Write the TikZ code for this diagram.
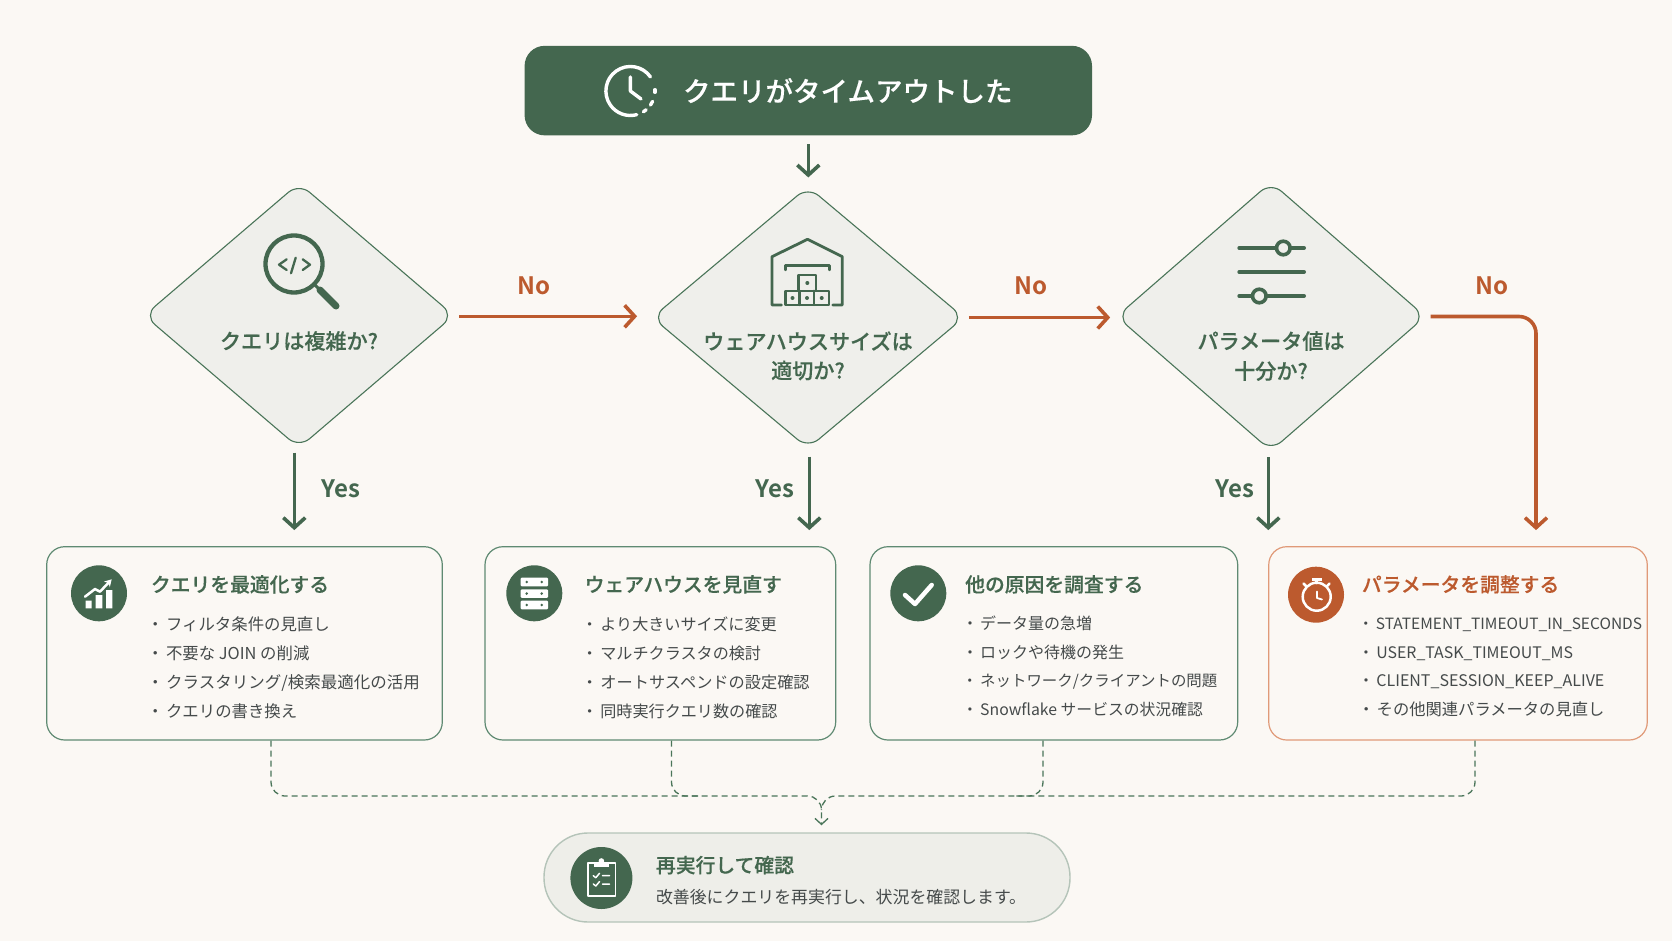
\documentclass[tikz,border=0pt]{standalone}
\usepackage{fontspec}
\setmainfont{Noto Sans CJK JP}
\newfontfamily\jpr{Noto Sans CJK JP}
\newfontfamily\jpm[FakeBold=0.3]{Noto Sans CJK JP Medium}
\newfontfamily\jpb{Noto Sans CJK JP Bold}
\usetikzlibrary{arrows.meta,shapes.geometric}
\definecolor{bgc}{HTML}{FBF8F4}
\definecolor{grn}{HTML}{44674F}
\definecolor{grnline}{HTML}{4A7559}
\definecolor{cardline}{HTML}{5F8A72}
\definecolor{org}{HTML}{BC5A2E}
\definecolor{orgline}{HTML}{E09A78}
\definecolor{dfill}{HTML}{EFEFEB}
\definecolor{pfill}{HTML}{EEEEE9}
\definecolor{pline}{HTML}{B5C4B9}
\definecolor{bodyc}{HTML}{454A4A}
\newcommand\rs{\rule[\dimexpr 6.3pt-0.5\baselineskip\relax]{0pt}{\baselineskip}}
\newcommand\sz[1]{\fontsize{#1}{\baselineskip}\selectfont}
\newcommand\dline[2]{\makebox[0pt][c]{\raisebox{#1}[0pt][0pt]{#2}}}
\tikzset{
  decision/.style={shape=diamond,draw=grnline,fill=dfill,line width=1.1pt,inner sep=0pt,rounded corners=14pt,text=grn,font=\jpm\fontsize{21.1}{24}\selectfont},
  card/.style={shape=rectangle,draw=cardline,fill=bgc,line width=1.2pt,rounded corners=18pt,inner sep=0pt,minimum height=193.3pt},
  ocard/.style={card,draw=orgline},
  circ/.style={shape=circle,fill=grn,inner sep=0pt,minimum size=56pt},
  title/.style={anchor=west,inner sep=0pt,text=grn,font=\jpm\fontsize{19.8}{24}\selectfont,text height=17.6pt,text depth=2.4pt},
  otitle/.style={title,text=org},
  blist/.style={anchor=west,inner sep=0pt,align=left,text=bodyc,font=\jpr\fontsize{16.4}{#1}\selectfont},
  gar/.style={draw=grn,line width=3.6pt,-{Straight Barb[length=10pt,width=22pt,line width=3.6pt]}},
  oar/.style={draw=org,line width=3.6pt,-{Straight Barb[length=10pt,width=22pt,line width=3.6pt]}},
  dsh/.style={draw=grnline,line width=1.3pt,dash pattern=on 6pt off 4pt},
  yes/.style={inner sep=0pt,text=grn,font=\jpb\fontsize{24}{28}\selectfont},
  nol/.style={inner sep=0pt,text=org,font=\jpb\fontsize{24}{28}\selectfont},
  ic/.style={draw=grn,line width=2.8pt,line cap=round,line join=round},
  wic/.style={draw=white,line width=2.5pt,line cap=round,line join=round},
}
\begin{document}
\begin{tikzpicture}[x=1pt,y=-1pt]
\useasboundingbox (0,0) rectangle (1672,941);
\fill[bgc] (0,0) rectangle (1672,941);

% start banner
\node[shape=rectangle,fill=grn,rounded corners=20pt,minimum width=567.4pt,minimum height=89.5pt,inner sep=0pt,text=white,font=\jpm\fontsize{27.5}{32}\selectfont] (banner) at (808.3,90.6) {\makebox[0pt][c]{\hspace{79pt}\raisebox{-2pt}{クエリがタイムアウトした}}};
\draw[wic,line width=3.4pt] (630.4,91) ++(-35:24.5) arc[start angle=-35,end angle=-285,radius=24.5];
\draw[wic,line width=3.4pt] (630.4,91) ++(-3:24.5) arc[start angle=-3,end angle=3,radius=24.5];
\draw[wic,line width=3.4pt] (630.4,91) ++(25:24.5) arc[start angle=25,end angle=35,radius=24.5];
\draw[wic,line width=3.4pt] (630.4,91) ++(50:24.5) arc[start angle=50,end angle=58,radius=24.5];
\draw[wic,line width=3.4pt] (630.4,77) -- (630.4,91) -- (641,99);

% decisions
\node[decision,minimum width=310pt,minimum height=265pt] (d1) at (299,315.5) {\dline{-33.5pt}{クエリは複雑か?}};
\node[decision,minimum width=312pt,minimum height=262pt] (d2) at (808,317.5) {\dline{-32pt}{ウェアハウスサイズは}\dline{-61pt}{適切か?}};
\node[decision,minimum width=309pt,minimum height=269pt] (d3) at (1271,316.5) {\dline{-32.5pt}{パラメータ値は}\dline{-62.5pt}{十分か?}};

% magnifier
\draw[ic,line width=4.3pt] (294,264) circle[radius=28.5];
\draw[ic,line width=3pt] (314,284) -- (320,290);
\draw[ic,line width=7pt] (320,290) -- (336,306);
\draw[ic,line width=2.3pt] (286.7,259.3) -- (279,264.7) -- (286.7,270);
\draw[ic,line width=2.3pt] (295.7,257.7) -- (291,273.3);
\draw[ic,line width=2.3pt] (302.7,259.3) -- (310,264.7) -- (302.7,270);

% warehouse
\draw[ic] (781.4,305) -- (772,305) -- (772,256.7) -- (807.5,239.3) -- (842.3,256.7) -- (842.3,305) -- (832.8,305);
\draw[ic,line width=2.4pt] (785.4,270) -- (785.4,265.7) -- (829.3,265.7) -- (829.3,270);
\draw[ic,line width=2.4pt] (798.4,275) rectangle (816.2,290.7);
\draw[ic,line width=2.4pt] (785.4,290.7) rectangle (829.2,305);
\draw[ic,line width=2.4pt] (799.6,290.7) -- (799.6,305) (814.2,290.7) -- (814.2,305);
\fill[grn] (807.3,283) circle[radius=2] (792.5,298) circle[radius=2] (807,298) circle[radius=2] (821.7,298) circle[radius=2];

% sliders
\draw[ic,line width=4pt] (1239.3,248) -- (1304,248);
\draw[ic,line width=4pt] (1239.3,272) -- (1304,272);
\draw[ic,line width=4pt] (1239.3,296) -- (1304,296);
\draw[ic,line width=3.6pt,fill=dfill] (1283.3,248) circle[radius=6.8];
\draw[ic,line width=3.6pt,fill=dfill] (1259.3,296) circle[radius=6.8];

% cards
\node[card,minimum width=395.6pt] (c1) at (244.5,643.35) {};
\node[card,minimum width=350.7pt] (c2) at (660.35,643.35) {};
\node[card,minimum width=367.7pt] (c3) at (1053.85,643.35) {};
\node[ocard,minimum width=378.5pt] (c4) at (1458,643.35) {};

\node[circ] (i1) at (99,593.3) {};
\node[circ] (i2) at (534.3,593.3) {};
\node[circ] (i3) at (918.3,593.3) {};
\node[circ,fill=org] (i4) at (1316,594.7) {};

\node[title] (t1) at (150.7,584.3) {クエリを最適化する};
\node[title] (t2) at (584.5,584.3) {ウェアハウスを見直す};
\node[title] (t3) at (965,584.3) {他の原因を調査する};
\node[otitle] (t4) at (1361.7,584.3) {パラメータを調整する};

\node[blist=29] (l1) at (146.8,667.5) {\rs・\hspace{2.7pt}フィルタ条件の見直し\\\rs・\hspace{2.7pt}不要な JOIN の削減\\\rs\sz{16.5}・\hspace{2.7pt}クラスタリング/検索最適化の活用\\\rs・\hspace{2.7pt}クエリの書き換え};
\node[blist=29] (l2) at (581.4,667.5) {\rs\sz{16.1}・\hspace{2.7pt}より大きいサイズに変更\\\rs\sz{16.1}・\hspace{2.7pt}マルチクラスタの検討\\\rs\sz{16.2}・\hspace{2.7pt}オートサスペンドの設定確認\\\rs\sz{16.1}・\hspace{2.7pt}同時実行クエリ数の確認};
\node[blist=28.5] (l3) at (961.8,666) {\rs\sz{16}・\hspace{2.2pt}データ量の急増\\\rs\sz{16}・\hspace{2.2pt}ロックや待機の発生\\\rs\sz{15.45}・\hspace{2.7pt}ネットワーク/クライアントの問題\\\rs\sz{15.8}・\hspace{2.4pt}Snowflake サービスの状況確認};
\node[blist=28.5] (l4) at (1357.8,666) {\rs\sz{15.5}・\hspace{2.4pt}STATEMENT\_TIMEOUT\_IN\_SECONDS\\\rs\sz{15.9}・\hspace{2.4pt}USER\_TASK\_TIMEOUT\_MS\\\rs\sz{16}・\hspace{2.4pt}CLIENT\_SESSION\_KEEP\_ALIVE\\\rs\sz{16.3}・\hspace{2.4pt}その他関連パラメータの見直し};

% card icons
\fill[white] (85.7,600.7) rectangle (91.7,608.3) (95.7,595) rectangle (102.3,608.3) (106,590) rectangle (112.3,608.3);
\draw[wic,-{Stealth[length=7pt,width=8pt]}] (85,596.7) -- (95,589) -- (100,591.7) -- (111.7,579.3);
\foreach \yy in {577.7,589.3,600.7}{
  \fill[white,rounded corners=1pt] (520.7,\yy) rectangle (548,\yy+8.6);
  \fill[grn] (526.7,\yy+4.3) circle[radius=1.4] (541.7,\yy+4.3) circle[radius=1.4];
}
\draw[wic,line width=4.5pt] (905,595) -- (915,604) -- (931.7,585);
\draw[wic] (1316.7,596.7) circle[radius=14];
\fill[white] (1311.7,578.3) rectangle (1321.7,581);
\draw[wic] (1316.7,580) -- (1316.7,583);
\draw[wic] (1303.5,583.5) -- (1306,586) (1329.5,583.5) -- (1327,586);
\draw[wic,line width=1.8pt] (1317,591.5) -- (1317,598) -- (1322,599.5);

% pill
\node[shape=rectangle,draw=pline,fill=pfill,line width=1.4pt,rounded corners=44pt,minimum width=526pt,minimum height=89pt,inner sep=0pt] (pill) at (807,877.5) {};
\node[circ,minimum size=62pt] (i5) at (601.4,878) {};
\node[title] (t5) at (655.8,865) {再実行して確認};
\node[anchor=west,inner sep=0pt,text=bodyc,font=\jpr\fontsize{16.9}{20}\selectfont,text height=14.4pt,text depth=2pt] (s5) at (655.8,897.2) {改善後にクエリを再実行し、状況を確認します。};
\draw[wic,line width=1.8pt] (587.7,863.3) rectangle (615.4,895.7);
\fill[white] (594,862) rectangle (608.8,866.5);
\fill[white] (601.4,861) circle[radius=2.8];
\draw[wic,line width=1.5pt] (593.3,875.7) -- (595.8,877.7) -- (599.5,873.3) (602.5,875.7) -- (609.5,875.7);
\draw[wic,line width=1.5pt] (593.3,884) -- (595.8,886) -- (599.5,881.6) (602.5,884) -- (609.5,884);

% connectors
\draw[gar,shorten <=8.6pt,shorten >=8.5pt] (banner.south) -- (banner.south |- d2.north);
\draw[oar,shorten <=4.5pt,shorten >=14.4pt] ([yshift=-0.8pt]d1.east) -- ([yshift=-0.8pt]d1.east -| d2.west);
\draw[oar,shorten <=4.4pt,shorten >=5.8pt] (d2.east) -- (d2.east -| d3.west);
\coordinate (n3) at (1536,316.5);
\draw[oar,rounded corners=17pt,shorten <=4.5pt,shorten >=16pt] (d3.east) -- (n3) -- (n3 |- c4.north);
\draw[gar,shorten <=4pt,shorten >=16pt] ([xshift=-4.7pt]d1.south) -- ([xshift=-4.7pt]d1.south |- c1.north);
\draw[gar,shorten <=7.5pt,shorten >=16pt] ([xshift=1.3pt]d2.south) -- ([xshift=1.3pt]d2.south |- c2.north);
\draw[gar,shorten <=5.7pt,shorten >=16pt] ([xshift=-2.7pt]d3.south) -- ([xshift=-2.7pt]d3.south |- c3.north);

\node[nol] (no1) at (534,285.7) {No};
\node[nol] (no2) at (1031,285.7) {No};
\node[nol] (no3) at (1491.7,285.7) {No};
\node[yes] (y1) at (341,489) {Yes};
\node[yes] (y2) at (775,489) {Yes};
\node[yes] (y3) at (1234.7,489) {Yes};

% dashed merge
\coordinate (j1) at (271,796);
\coordinate (j2) at (671.5,796);
\coordinate (j2e) at (700,796);
\coordinate (j3) at (1043,796);
\coordinate (j3e) at (1014,796);
\coordinate (j4) at (1475,796);
\coordinate (jm) at (821.5,796);
\draw[dsh,rounded corners=14pt,shorten >=7pt,-{Straight Barb[length=6pt,width=13pt,line width=1.3pt]}] (c1.south -| j1) -- (j1) -- (jm) -- (pill.north -| jm);
\draw[dsh,rounded corners=14pt] (c4.south -| j4) -- (j4) -- (jm) -- ++(0,14);
\draw[dsh,rounded corners=14pt] (c2.south -| j2) -- (j2) -- (j2e);
\draw[dsh,rounded corners=14pt] (c3.south -| j3) -- (j3) -- (j3e);
\end{tikzpicture}
\end{document}
